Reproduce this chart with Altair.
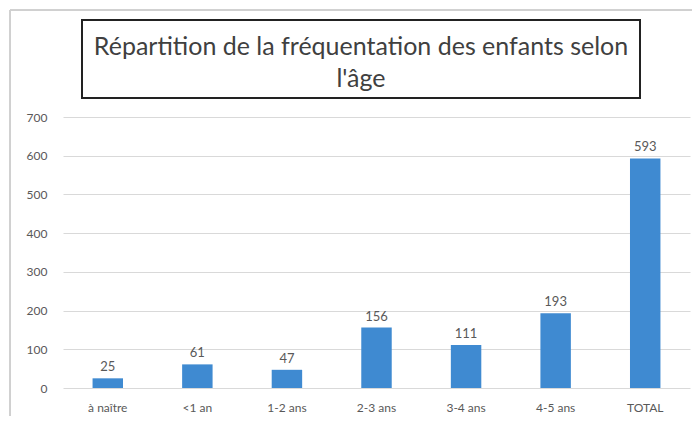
import altair as alt
import pandas as pd

categories = ["à naître", "<1 an", "1-2 ans", "2-3 ans", "3-4 ans", "4-5 ans", "TOTAL"]
values = [25, 61, 47, 156, 111, 193, 593]
title_lines = ["Répartition de la fréquentation des enfants selon", "l'âge"]
y_ticks = [0, 100, 200, 300, 400, 500, 600, 700]

df = pd.DataFrame({"cat": categories, "val": values})

FONT = "Lato"
GRAY = "#595959"
W, H = 627, 271

x_enc = alt.X("cat:N", sort=categories, title=None,
              scale=alt.Scale(paddingInner=0.66, paddingOuter=0.33),
              axis=alt.Axis(labelAngle=0, labelFont=FONT, labelFontSize=12,
                            labelColor=GRAY, labelPadding=14, ticks=False,
                            domain=False, grid=False))
y_enc = alt.Y("val:Q", title=None,
              scale=alt.Scale(domain=[0, 700], nice=False),
              axis=alt.Axis(values=y_ticks, labelFont=FONT, labelFontSize=12,
                            labelColor=GRAY, labelPadding=16, ticks=False,
                            labelOverlap=False, domain=False, grid=True,
                            gridColor="#d9d9d9"))

bars = alt.Chart(df).mark_bar(color="#3f8ad1").encode(x=x_enc, y=y_enc)
labels = alt.Chart(df).mark_text(dy=-11, font=FONT, fontSize=13, color=GRAY).encode(
    x=x_enc, y=y_enc, text="val:Q")

frame = alt.Chart(df).mark_rect(fill=None, stroke="#d0d0d0", strokeWidth=1).encode(
    x=alt.value(-53), x2=alt.value(W + 10), y=alt.value(-107), y2=alt.value(H + 40))
title_box = alt.Chart(df).mark_rect(fill=None, stroke="#222222", strokeWidth=2).encode(
    x=alt.value(19), x2=alt.value(577), y=alt.value(-97), y2=alt.value(-19))
title_df = pd.DataFrame({"t": [title_lines]})
title_text = alt.Chart(title_df).mark_text(
    font=FONT, fontSize=25, color="#404040", lineHeight=32, baseline="middle", align="center"
).encode(x=alt.value(298), y=alt.value(-70), text="t")

chart = alt.layer(frame, title_box, bars, labels, title_text).properties(
    width=W, height=H,
    padding={"left": 55, "top": 109, "right": 2, "bottom": 28},
    autosize=alt.AutoSizeParams(type="none"),
    background="white",
).configure_view(stroke=None)

chart.save("out.html", embed_options={"renderer": "svg", "actions": False})
